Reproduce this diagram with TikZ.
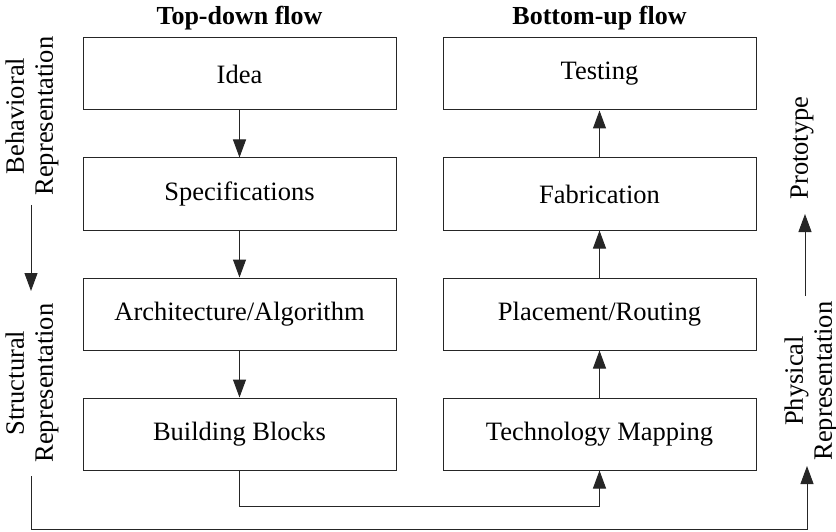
\documentclass[tikz,border=0pt]{standalone}
\usepackage{fontspec}
\setmainfont{Liberation Serif}
\usetikzlibrary{arrows.meta}
\begin{document}
\begin{tikzpicture}[x=1pt,y=-1pt,
  font=\fontsize{26.5}{29}\selectfont,
  stage/.style={draw=black!85, line width=1pt, minimum width=313pt, minimum height=72pt, inner sep=0pt},
  flow/.style={draw=black!85, line width=1pt, -{Triangle[length=18pt,width=13pt]}},
  title/.style={font=\fontsize{26}{29}\selectfont\bfseries},
  side/.style={rotate=90, align=center, inner sep=0pt}]
\useasboundingbox (0,0) rectangle (836,532);

% column headings
\node[title] (tdtitle) at (239.5,18) {Top-down flow};
\node[title] (butitle) at (599.5,18) {Bottom-up flow};

% top-down column
\node[stage] (idea) at (239.5,74) {Idea};
\node[stage] (spec) at (239.5,194) {Specifications};
\node[stage] (arch) at (239.5,314) {Architecture/Algorithm};
\node[stage] (blocks) at (239.5,434) {Building Blocks};

% bottom-up column
\node[stage] (test) at (599.5,74) {Testing};
\node[stage] (fab) at (599.5,194) {Fabrication};
\node[stage] (place) at (599.5,314) {Placement/Routing};
\node[stage] (techmap) at (599.5,434) {Technology Mapping};

\draw[flow] (idea) -- (spec);
\draw[flow] (spec) -- (arch);
\draw[flow] (arch) -- (blocks);

\draw[flow] (techmap) -- (place);
\draw[flow] (place) -- (fab);
\draw[flow] (fab) -- (test);

\draw[flow] (blocks.south) -- ++(0,36) -| (techmap.south);

% side labels
\node[side] (behav) at (32,116) {Behavioral\\Representation};
\node[side] (struct) at (32,383) {Structural\\Representation};
\node[side] (proto) at (802,148) {Prototype};
\node[side] (phys) at (811,381) {Physical\\Representation};

\coordinate (lefttop) at (31,205);
\coordinate (leftend) at (31,291);
\draw[flow] (lefttop) -- (leftend);

\coordinate (rightstart) at (805,296);
\coordinate (righttip) at (805,214);
\draw[flow] (rightstart) -- (righttip);

\coordinate (loopstart) at (31,476);
\coordinate (loopend) at (807,466);
\draw[flow] (loopstart) -- (31,529) -| (loopend);
\end{tikzpicture}
\end{document}
